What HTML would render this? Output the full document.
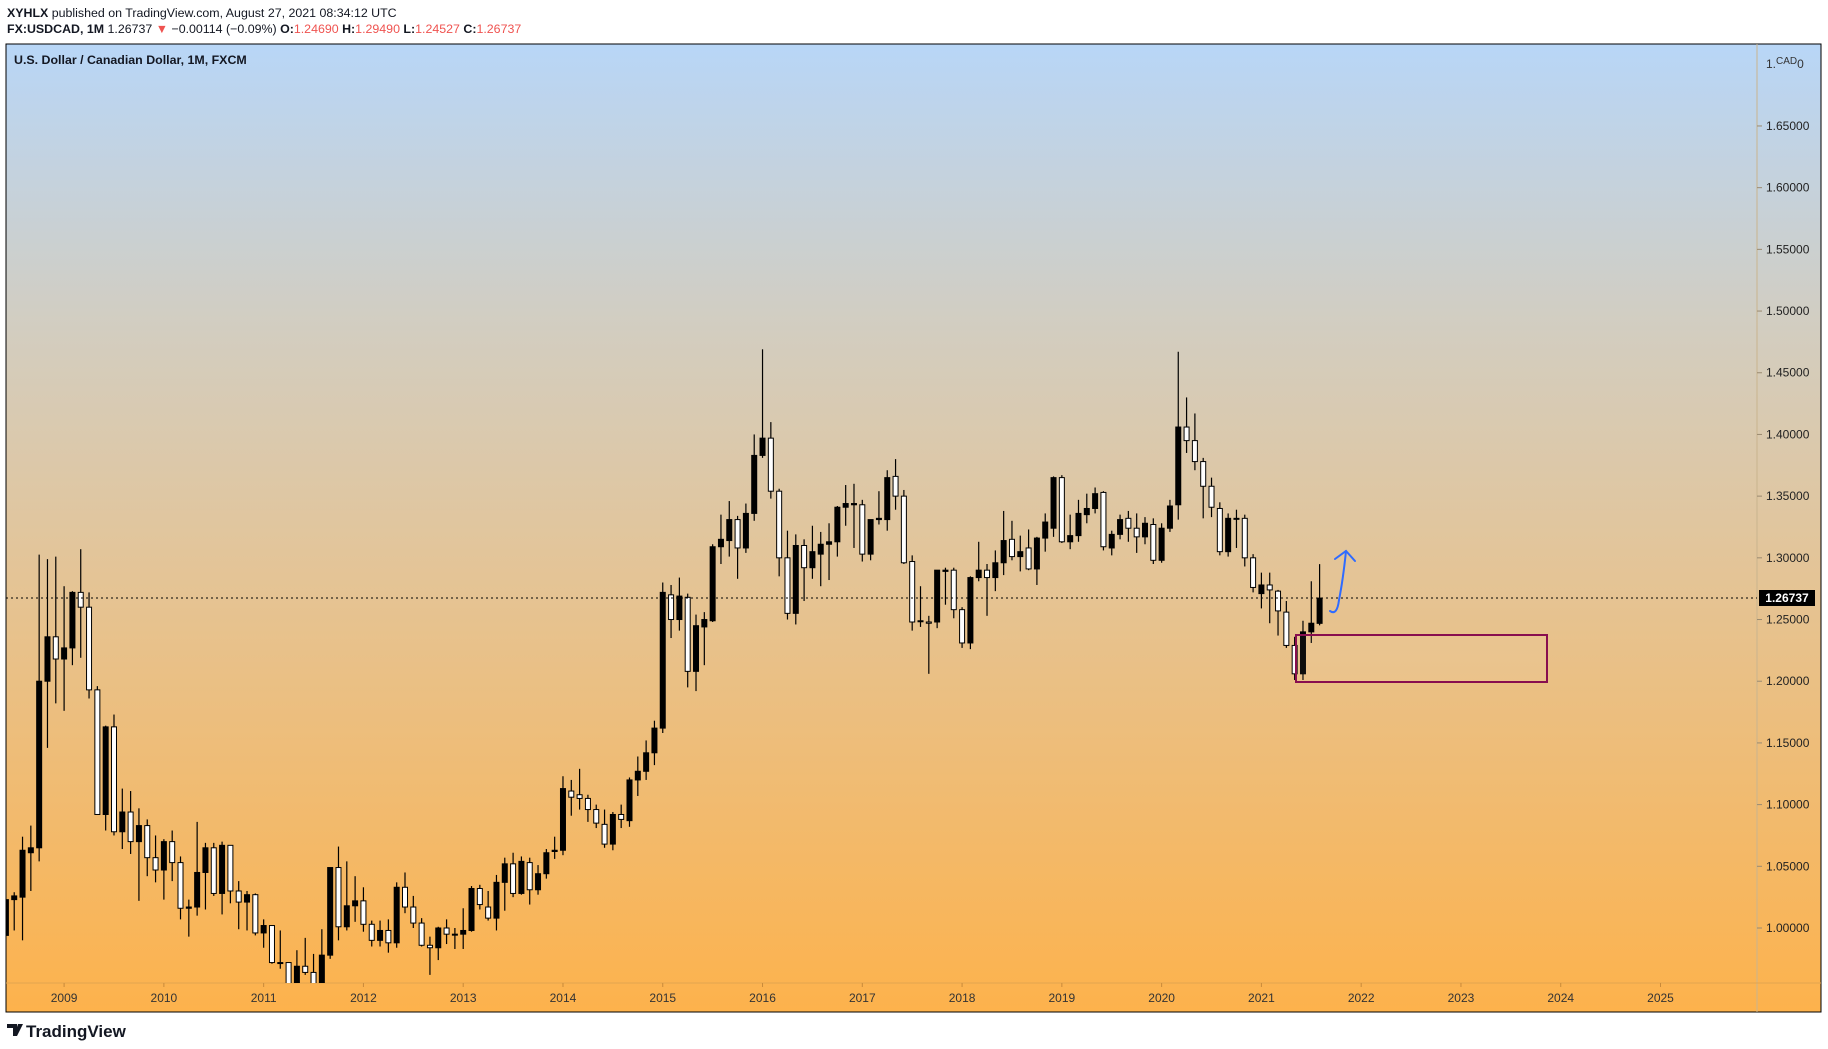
<!DOCTYPE html>
<html><head><meta charset="utf-8"><style>
html,body{margin:0;padding:0;background:#fff;width:1828px;height:1049px;overflow:hidden;font-family:"Liberation Sans",sans-serif}
.hdr{position:absolute;left:7px;font-size:12.4px;color:#131722;white-space:nowrap}
.r{color:#ef5350}
</style></head><body>
<div class="hdr" style="top:6px"><b>XYHLX</b> published on TradingView.com, August 27, 2021 08:34:12 UTC</div>
<div class="hdr" style="top:22px"><b>FX:USDCAD, 1M</b> 1.26737 <span class="r">▼</span> −0.00114 (−0.09%) <b>O:</b><span class="r">1.24690</span> <b>H:</b><span class="r">1.29490</span> <b>L:</b><span class="r">1.24527</span> <b>C:</b><span class="r">1.26737</span></div>
<svg id="chart" width="1828" height="1049" style="position:absolute;left:0;top:0" xmlns="http://www.w3.org/2000/svg">
<defs>
<linearGradient id="bg" x1="0" y1="0" x2="0" y2="1">
<stop offset="0" stop-color="#b8d6f7"/>
<stop offset="0.3" stop-color="#d3cdbf"/>
<stop offset="0.55" stop-color="#e4c496"/>
<stop offset="1" stop-color="#fdb24c"/>
</linearGradient>
<clipPath id="plot"><rect x="6" y="44" width="1751" height="939"/></clipPath>
</defs>
<rect x="6" y="44" width="1815" height="968" fill="url(#bg)" stroke="#000" stroke-width="1"/>
<line x1="1757" y1="44" x2="1757" y2="1012" stroke="#c9b48e" stroke-width="1"/>
<line x1="6" y1="983" x2="1821" y2="983" stroke="#e2a550" stroke-width="1"/>
<text x="14" y="64" font-size="12.4" font-weight="bold" fill="#131722" font-family="Liberation Sans, sans-serif">U.S. Dollar / Canadian Dollar, 1M, FXCM</text>
<g id="yaxis"></g><g id="xaxis"></g>
<g id="candles" clip-path="url(#plot)"></g>
<line x1="6" y1="598" x2="1757" y2="598" stroke="#000" stroke-dasharray="2,3" stroke-width="1"/>
<rect x="1296" y="635" width="251" height="47" fill="rgba(255,255,255,0.05)" stroke="#880e4f" stroke-width="2"/>
<g fill="none" stroke="#2f6bff" stroke-width="2" stroke-linecap="round">
<path d="M1330 611 Q1337 616 1339 600 Q1343 580 1346 551"/>
<path d="M1335 559 L1346 551 L1355 561"/>
</g>
<rect x="1759" y="590" width="56" height="16" fill="#000"/>
<text x="1787" y="602" font-size="12" font-weight="bold" fill="#fff" text-anchor="middle" font-family="Liberation Sans, sans-serif">1.26737</text>
<text x="1766" y="68" font-size="12" fill="#333" font-family="Liberation Sans, sans-serif">1.<tspan font-size="10" dy="-4">CAD</tspan><tspan dy="4">0</tspan></text>
<g>
<path d="M7 1024 h10 v12 h-4 v-8 h-6z M18 1024 l5 0 l-6 12 h-3z" fill="#131722"/>
<text x="26" y="1037" font-size="17" font-weight="bold" fill="#131722" font-family="Liberation Sans, sans-serif">TradingView</text>
</g>
</svg>
<script>
const yTicks=[1.00,1.05,1.10,1.15,1.20,1.25,1.30,1.35,1.40,1.45,1.50,1.55,1.60,1.65];
const years=[2009,2010,2011,2012,2013,2014,2015,2016,2017,2018,2019,2020,2021,2022,2023,2024,2025];
const startYear=2008, startMonth=5;
const opens=[0.994,1.023,1.025,1.061,1.065,1.2,1.236,
1.218,1.227,1.272,1.26,1.193,1.092,1.163,1.078,1.094,1.07,1.083,1.057,
1.047,1.07,1.053,1.016,1.017,1.045,1.065,1.028,1.067,1.03,1.021,1.027,
0.996,1.002,0.972,0.972,0.948,0.969,0.964,0.955,0.978,1.049,1.001,1.018,
1.022,1.003,0.99,0.998,0.988,1.033,1.017,1.004,0.986,0.984,1.0,0.995,
0.995,0.998,1.032,1.017,1.008,1.037,1.052,1.028,1.053,1.031,1.044,1.062,
1.063,1.111,1.108,1.105,1.096,1.084,1.068,1.092,1.087,1.12,1.127,1.142,
1.162,1.27,1.25,1.268,1.208,1.244,1.249,1.309,1.314,1.331,1.308,1.336,
1.383,1.397,1.354,1.3,1.255,1.31,1.292,1.303,1.311,1.313,1.341,1.343,
1.343,1.303,1.331,1.331,1.366,1.35,1.297,1.249,1.248,1.248,1.289,1.29,
1.258,1.231,1.284,1.29,1.284,1.296,1.315,1.301,1.308,1.291,1.316,1.324,
1.365,1.313,1.318,1.335,1.34,1.353,1.308,1.319,1.332,1.324,1.317,1.327,
1.298,1.324,1.343,1.406,1.395,1.378,1.358,1.34,1.305,1.332,1.332,1.3,
1.271,1.278,1.273,1.256,1.229,1.206,1.24,1.2469];
const highs=[1.026,1.029,1.074,1.083,1.3026,1.299,1.301,
1.277,1.273,1.307,1.272,1.196,1.164,1.173,1.113,1.111,1.097,1.088,1.075,
1.072,1.079,1.058,1.023,1.086,1.069,1.069,1.07,1.067,1.038,1.03,1.028,
1.007,1.002,0.998,0.972,0.982,0.992,0.979,0.999,1.049,1.066,1.054,1.042,
1.033,1.006,1.006,1.007,1.037,1.045,1.026,1.008,0.993,1.001,1.007,1.0,
1.016,1.034,1.035,1.03,1.043,1.057,1.061,1.058,1.057,1.051,1.064,1.074,
1.123,1.12,1.129,1.108,1.1,1.096,1.094,1.1,1.122,1.139,1.152,1.168,
1.28,1.278,1.284,1.271,1.254,1.256,1.311,1.335,1.346,1.334,1.344,1.4,
1.469,1.41,1.356,1.322,1.319,1.315,1.326,1.321,1.328,1.342,1.359,1.36,
1.347,1.331,1.354,1.371,1.38,1.355,1.302,1.277,1.253,1.29,1.292,1.292,
1.26,1.285,1.313,1.295,1.306,1.338,1.33,1.318,1.323,1.317,1.336,1.366,
1.367,1.335,1.347,1.352,1.357,1.354,1.322,1.335,1.338,1.336,1.333,1.332,
1.328,1.347,1.467,1.43,1.417,1.381,1.365,1.345,1.336,1.339,1.335,1.303,
1.288,1.288,1.274,1.265,1.236,1.249,1.281,1.2949];
const lows=[0.99,0.998,0.99,1.03,1.054,1.146,1.182,
1.176,1.213,1.219,1.186,1.092,1.079,1.075,1.064,1.06,1.022,1.042,1.037,
1.023,1.038,1.007,0.993,1.01,1.015,1.026,1.011,1.02,0.999,0.998,0.994,
0.984,0.971,0.967,0.941,0.944,0.962,0.945,0.947,0.975,0.99,0.998,1.005,
0.997,0.985,0.985,0.98,0.984,1.012,1.0,0.985,0.962,0.974,0.987,0.983,
0.983,0.997,1.015,1.006,0.998,1.014,1.025,1.027,1.019,1.027,1.04,1.056,
1.059,1.091,1.096,1.086,1.081,1.065,1.063,1.081,1.082,1.107,1.12,1.132,
1.158,1.235,1.241,1.195,1.192,1.213,1.248,1.295,1.301,1.283,1.304,1.33,
1.381,1.348,1.285,1.25,1.246,1.265,1.283,1.277,1.282,1.301,1.326,1.308,
1.297,1.298,1.327,1.322,1.339,1.295,1.241,1.244,1.206,1.243,1.262,1.251,
1.227,1.226,1.281,1.253,1.273,1.286,1.298,1.289,1.29,1.278,1.305,1.317,
1.312,1.307,1.313,1.328,1.336,1.306,1.302,1.315,1.313,1.304,1.311,1.295,
1.296,1.321,1.331,1.385,1.371,1.332,1.333,1.302,1.301,1.308,1.293,1.272,
1.259,1.247,1.237,1.227,1.201,1.201,1.231,1.2453];
const closes=[1.023,1.026,1.063,1.065,1.2,1.236,1.218,
1.227,1.272,1.26,1.193,1.092,1.163,1.078,1.094,1.07,1.083,1.057,1.047,
1.07,1.053,1.016,1.017,1.045,1.065,1.028,1.067,1.03,1.021,1.027,0.996,
1.002,0.972,0.972,0.948,0.969,0.964,0.955,0.978,1.049,1.001,1.018,1.022,
1.003,0.99,0.998,0.988,1.033,1.017,1.004,0.986,0.984,1.0,0.995,0.995,
0.998,1.032,1.019,1.008,1.037,1.052,1.028,1.054,1.031,1.044,1.061,1.063,
1.113,1.106,1.105,1.096,1.085,1.068,1.092,1.088,1.12,1.127,1.142,1.162,
1.272,1.25,1.269,1.208,1.245,1.25,1.309,1.315,1.331,1.308,1.336,1.383,
1.397,1.354,1.3,1.255,1.31,1.292,1.305,1.311,1.313,1.341,1.344,1.344,
1.303,1.331,1.332,1.365,1.35,1.296,1.248,1.249,1.247,1.29,1.29,1.258,
1.231,1.284,1.29,1.284,1.296,1.314,1.301,1.305,1.291,1.316,1.329,1.365,
1.313,1.318,1.336,1.34,1.352,1.309,1.319,1.331,1.324,1.317,1.328,1.298,
1.324,1.342,1.406,1.395,1.378,1.358,1.341,1.305,1.332,1.332,1.3,1.276,
1.278,1.274,1.257,1.229,1.206,1.24,1.247,1.26737];

const NS='http://www.w3.org/2000/svg';
function yScale(p){return 928.0-(p-1)*1233.9;}
function xMonth(i){return 5.9+i*8.3146;}
function xYear(y){return 64.1+(y-2009)*99.775;}
function mk(tag,attrs,parent){const e=document.createElementNS(NS,tag);for(const k in attrs)e.setAttribute(k,attrs[k]);parent.appendChild(e);return e;}

const ya=document.getElementById('yaxis');
yTicks.forEach(v=>{
  const y=yScale(v);
  const t=mk('line',{x1:1757,y1:y,x2:1762,y2:y,stroke:'#9a8a70'},ya);
  
  
  const tx=mk('text',{x:1766,y:y+4,'font-size':12,fill:'#222','font-family':'Liberation Sans, sans-serif'},ya);
  
  
  tx.textContent=v.toFixed(5);
});
const xa=document.getElementById('xaxis');
years.forEach(yr=>{
  const x=xYear(yr);
  const t=mk('line',{x1:x,y1:983,x2:x,y2:987,stroke:'#c98a3a'},xa);
  
  
  const tx=mk('text',{x:x,y:1002,'font-size':12,fill:'#333','text-anchor':'middle','font-family':'Liberation Sans, sans-serif'},xa);
  
  
  tx.textContent=yr;
});
const cg=document.getElementById('candles');
closes.forEach((c,i)=>{
  const o=opens[i],h=highs[i],l=lows[i];
  const x=xMonth(i);
  const up=c>=o;
  const g=mk('g',{},cg);
  
  
  mk('line',{x1:x,y1:yScale(h),x2:x,y2:yScale(l),stroke:'#000','stroke-width':1.2},g);
  const top=yScale(Math.max(o,c)),bot=yScale(Math.min(o,c));
  mk('rect',{x:x-2.5,y:top,width:5,height:Math.max(bot-top,1),fill:up?'#000':'#fff',stroke:'#000','stroke-width':1},g);
});
</script>
</body></html>
